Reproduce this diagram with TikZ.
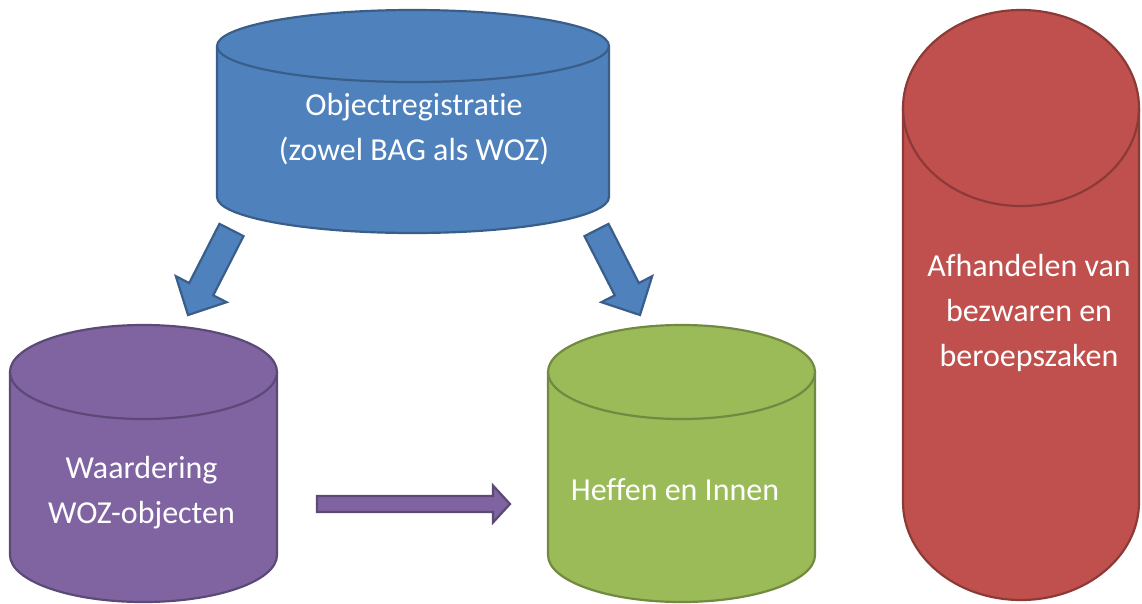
\documentclass[tikz,border=0pt]{standalone}
\usepackage{fontspec}
\setmainfont[Ligatures=NoCommon]{Carlito}
\usetikzlibrary{calc}
\definecolor{blauw}{HTML}{4F81BD}
\definecolor{paars}{HTML}{8064A2}
\definecolor{groen}{HTML}{9BBB59}
\definecolor{rood}{HTML}{C0504D}
\tikzset{
  vat/.style={fill=#1,draw=#1!73!black,line width=2.2pt},
  rand/.style={draw=#1!73!black,line width=2.2pt},
  etiket/.style={text=white,align=center,font=\fontsize{32}{45}\selectfont},
}
\begin{document}
\begin{tikzpicture}[x=1pt,y=1pt]
  \useasboundingbox (0,0) rectangle (1142,-603);
  \foreach \cx/\yt/\yb/\rx/\ry/\col in {413/46/197/196/36/blauw,143.5/372/555/133.5/47/paars,681.5/372/555/133.5/47/groen,1021/108/502/118/98/rood}
  {
    \filldraw[vat=\col] ({\cx-\rx},-\yt) -- ({\cx-\rx},-\yb)
          arc[start angle=180,end angle=360,x radius=\rx,y radius=\ry] -- ({\cx+\rx},-\yt)
          arc[start angle=0,end angle=180,x radius=\rx,y radius=\ry] -- cycle;
    \draw[rand=\col] ({\cx-\rx},-\yt) arc[start angle=180,end angle=360,x radius=\rx,y radius=\ry];
  }
  \node[etiket] (objreg) at (414,-129) {Objectregistratie\\(zowel BAG als WOZ)};
  \node[etiket] (waardering) at (141.5,-493) {Waardering\\WOZ-objecten};
  \node[etiket] (heffen) at (675,-490) {Heffen en Innen};
  \node[etiket] (bezwaar) at (1029,-313) {Afhandelen van\\bezwaren en\\beroepszaken};
  \coordinate (objreg-l) at (231.5,-230);
  \coordinate (waardering-in) at (188,-315);
  \coordinate (objreg-r) at (596.5,-230);
  \coordinate (heffen-in) at (640,-315);
  \coordinate (waardering-uit) at (317,-504);
  \coordinate (heffen-l) at (510,-504);
  \foreach \s/\e/\w/\h/\a/\col in {objreg-l/waardering-in/13.5/28.5/29/blauw,objreg-r/heffen-in/13.5/28.5/29/blauw,waardering-uit/heffen-l/8/18.5/17/paars}
    \filldraw[vat=\col] ($(\s)!\w pt!90:(\e)$) -- ($(\e)!\a pt!(\s)!\w pt!90:(\e)$)
          -- ($(\e)!\a pt!(\s)!\h pt!90:(\e)$) -- (\e) -- ($(\e)!\a pt!(\s)!\h pt!-90:(\e)$)
          -- ($(\e)!\a pt!(\s)!\w pt!-90:(\e)$) -- ($(\s)!\w pt!-90:(\e)$) -- cycle;
\end{tikzpicture}
\end{document}
